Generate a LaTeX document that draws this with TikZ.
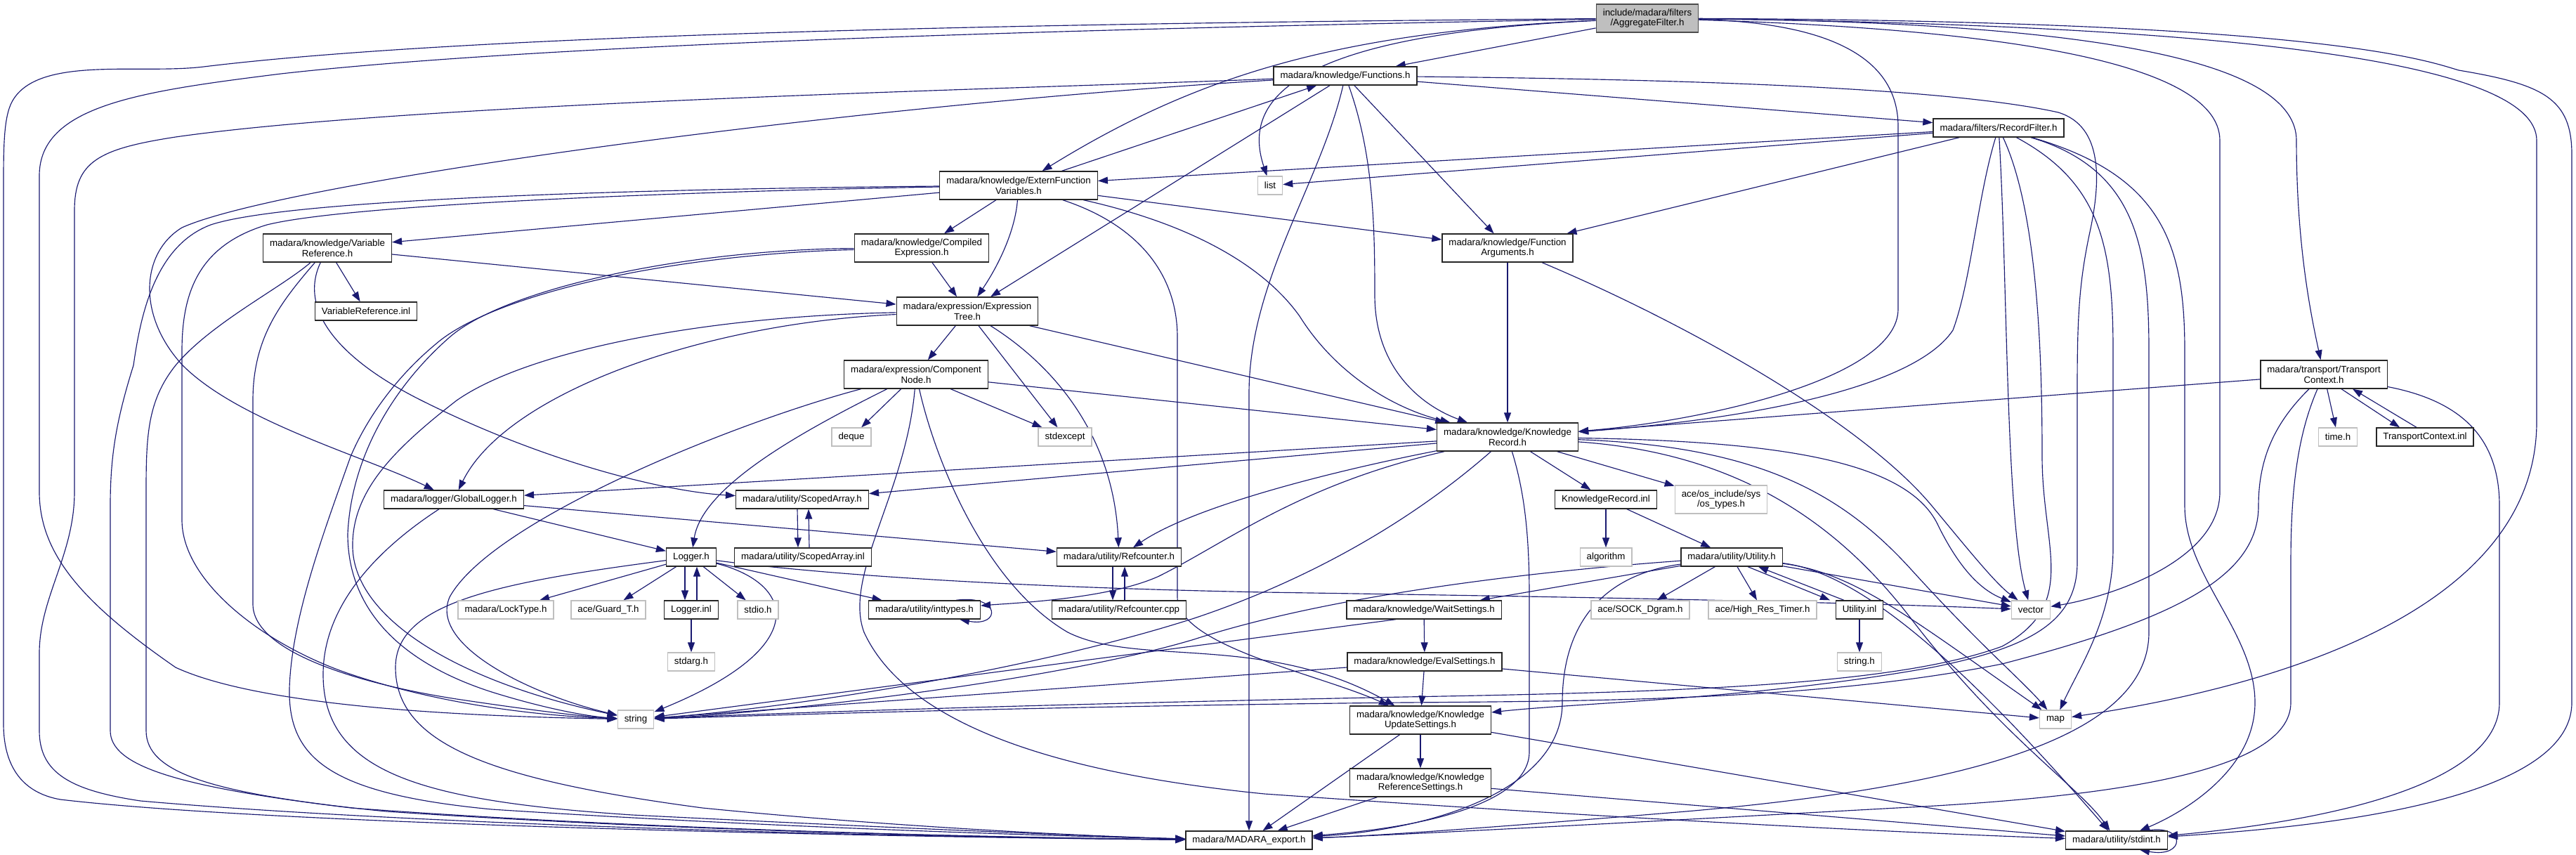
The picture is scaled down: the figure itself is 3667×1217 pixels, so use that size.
\documentclass[tikz,border=0pt]{standalone}
\usepackage{fontspec}
\setmainfont{Liberation Sans}
\usetikzlibrary{arrows.meta}
\pgfdeclarelayer{bg}
\pgfsetlayers{bg,main}
\definecolor{edgeblue}{HTML}{191970}
\definecolor{sysgray}{HTML}{BFBFBF}
\begin{document}
\begin{tikzpicture}[x=1pt,y=-1pt,font=\fontsize{13.3}{14.5}\selectfont,
  nb/.style={draw=black!85,line width=1.35pt,fill=white,inner xsep=9.5pt,inner ysep=0pt,minimum height=26pt,text=black},
  ns/.style={nb,draw=sysgray},
  nroot/.style={nb,fill=sysgray,draw=black!70},
  two/.style={minimum height=40pt,align=center},
  dep/.style={draw=edgeblue,line width=1.15pt,-{Triangle[length=14pt,width=10pt]}}]
\useasboundingbox (0,0) rectangle (3667,1217);
% ---------------- nodes
\node[nroot,two] (R) at (2345,26) {include/madara/filters\\/AggregateFilter.h};
\node[nb] (F) at (1915,108) {madara/knowledge/Functions.h};
\node[nb] (RF) at (2845,182) {madara/filters/RecordFilter.h};
\node[nb,two] (EF) at (1450,264) {madara/knowledge/ExternFunction\\Variables.h};
\node[ns] (LST) at (1808,264) {list};
\node[nb,two] (VR) at (466,353) {madara/knowledge/Variable\\Reference.h};
\node[nb,two] (CE) at (1312,353) {madara/knowledge/Compiled\\Expression.h};
\node[nb,two] (FA) at (2146,353) {madara/knowledge/Function\\Arguments.h};
\node[nb] (VRI) at (521,443) {VariableReference.inl};
\node[nb,two] (ET) at (1377,443) {madara/expression/Expression\\Tree.h};
\node[nb,two] (CN) at (1304,533) {madara/expression/Component\\Node.h};
\node[nb,two] (TC) at (3308,533) {madara/transport/Transport\\Context.h};
\node[ns] (DQ) at (1212,622) {deque};
\node[ns] (SE) at (1516,622) {stdexcept};
\node[nb,two] (KR) at (2146,622) {madara/knowledge/Knowledge\\Record.h};
\node[ns] (TIME) at (3328,622) {time.h};
\node[nb] (TCI) at (3452,622) {TransportContext.inl};
\node[nb] (GL) at (646,711) {madara/logger/GlobalLogger.h};
\node[nb] (SA) at (1142,711) {madara/utility/ScopedArray.h};
\node[nb] (KRI) at (2286,711) {KnowledgeRecord.inl};
\node[ns,two] (OST) at (2450,711) {ace/os\_include/sys\\/os\_types.h};
\node[nb] (LOG) at (984,793) {Logger.h};
\node[nb] (SAI) at (1143,793) {madara/utility/ScopedArray.inl};
\node[nb] (RC) at (1593,793) {madara/utility/Refcounter.h};
\node[ns] (ALG) at (2286,793) {algorithm};
\node[nb] (UT) at (2465,793) {madara/utility/Utility.h};
\node[ns] (LT) at (720,868) {madara/LockType.h};
\node[ns] (GT) at (866,868) {ace/Guard\_T.h};
\node[nb] (LOGI) at (984,868) {Logger.inl};
\node[ns] (STDIO) at (1079,868) {stdio.h};
\node[nb] (IT) at (1316,868) {madara/utility/inttypes.h};
\node[nb] (RCC) at (1593,868) {madara/utility/Refcounter.cpp};
\node[nb] (WS) at (2027,868) {madara/knowledge/WaitSettings.h};
\node[ns] (SOCK) at (2335,868) {ace/SOCK\_Dgram.h};
\node[ns] (HRT) at (2509,868) {ace/High\_Res\_Timer.h};
\node[nb] (UTI) at (2647,868) {Utility.inl};
\node[ns] (VEC) at (2891,868) {vector};
\node[ns] (STDARG) at (984,942) {stdarg.h};
\node[nb] (ES) at (2028,942) {madara/knowledge/EvalSettings.h};
\node[ns] (STRH) at (2647,942) {string.h};
\node[ns] (STR) at (905,1024) {string};
\node[ns] (MAP) at (2926,1024) {map};
\node[nb,two] (KUS) at (2022,1025) {madara/knowledge/Knowledge\\UpdateSettings.h};
\node[nb,two] (KRS) at (2022,1114) {madara/knowledge/Knowledge\\ReferenceSettings.h};
\node[nb] (MEX) at (1778,1196) {madara/MADARA\_export.h};
\node[nb] (SI) at (3013,1196) {madara/utility/stdint.h};
% ---------------- edges
\begin{pgfonlayer}{bg}
% root
\draw[dep] (R) -- (F);
\draw[dep] (R) .. controls (1900,45) and (1700,110) .. (EF);
\draw[dep] (R) .. controls (1820,50) and (1770,150) .. (LST);
\draw[dep] (R) .. controls (1600,32) and (700,45) .. (290,95) .. controls (200,106) and (60,80) .. (20,140) .. controls (6,160) and (5,200) .. (5,260) -- (5,1030) .. controls (5,1100) and (40,1130) .. (86,1138) .. controls (400,1175) and (1300,1192) .. (MEX);
\draw[dep] (R) .. controls (1600,40) and (800,60) .. (400,105) .. controls (200,130) and (56,150) .. (56,250) -- (56,700) .. controls (56,790) and (120,860) .. (250,950) .. controls (380,1010) and (700,1020) .. (STR);
\draw[dep] (R) .. controls (2600,32) and (2702,80) .. (2702,180) -- (2702,440) .. controls (2702,540) and (2420,600) .. (KR);
\draw[dep] (R) .. controls (2800,40) and (3160,80) .. (3160,200) -- (3160,700) .. controls (3160,800) and (3000,850) .. (VEC);
\draw[dep] (R) .. controls (3000,32) and (3269,90) .. (3269,200) .. controls (3269,350) and (3290,450) .. (TC);
\draw[dep] (R) .. controls (3200,36) and (3611,90) .. (3611,200) -- (3611,600) .. controls (3611,900) and (3150,990) .. (MAP);
\draw[dep] (R) .. controls (3300,30) and (3450,85) .. (3500,100) .. controls (3620,120) and (3661,140) .. (3661,220) -- (3661,1000) .. controls (3661,1150) and (3250,1180) .. (SI);
% Functions.h
\draw[dep] (F) -- (ET);
\draw[dep] (F) -- (FA);
\draw[dep] (F) -- (RF);
\draw[dep] (F) .. controls (1880,260) and (1778,400) .. (1778,560) -- (MEX);
\draw[dep] (F) .. controls (1955,220) and (1957,320) .. (1957,420) .. controls (1957,530) and (2030,580) .. (KR);
\draw[dep] (F) .. controls (1200,150) and (400,260) .. (259,324) .. controls (200,360) and (195,450) .. (260,520) .. controls (340,600) and (520,650) .. (GL);
\draw[dep] (F) .. controls (1500,125) and (600,145) .. (250,195) .. controls (140,212) and (106,230) .. (106,300) -- (106,700) .. controls (106,790) and (56,850) .. (56,930) -- (56,1040) .. controls (56,1100) and (100,1125) .. (200,1140) .. controls (600,1175) and (1300,1192) .. (MEX);
\draw[dep] (F) .. controls (2300,112) and (2750,120) .. (2930,160) .. controls (2995,180) and (2990,260) .. (2975,330) .. controls (2960,400) and (2957,450) .. (2957,550) -- (2957,800) .. controls (2957,880) and (2900,920) .. (2750,950) .. controls (2500,995) and (2250,1000) .. (KUS);
% ExternFunctionVariables.h
\draw[dep] (EF) -- (F);
\draw[dep] (EF) -- (CE);
\draw[dep] (EF) .. controls (1445,330) and (1420,380) .. (ET);
\draw[dep] (EF) -- (FA);
\draw[dep] (EF) -- (VR);
\draw[dep] (EF) .. controls (1700,320) and (1800,380) .. (1850,450) .. controls (1900,530) and (1980,580) .. (KR);
\draw[dep] (EF) .. controls (1620,320) and (1676,390) .. (1676,480) -- (1676,850) .. controls (1676,920) and (1880,960) .. (KUS);
\draw[dep] (EF) .. controls (1000,272) and (500,290) .. (380,320) .. controls (280,350) and (259,420) .. (259,500) -- (259,740) .. controls (259,830) and (380,920) .. (500,960) .. controls (650,1010) and (800,1020) .. (STR);
\draw[dep] (EF) .. controls (1000,268) and (420,280) .. (300,320) .. controls (220,350) and (200,450) .. (190,520) .. controls (165,600) and (157,650) .. (157,720) -- (157,1040) .. controls (157,1090) and (250,1120) .. (500,1150) .. controls (900,1180) and (1400,1192) .. (MEX);
% VariableReference.h
\draw[dep] (VR) -- (VRI);
\draw[dep] (VR) -- (ET);
\draw[dep] (VR) .. controls (425,440) and (480,510) .. (600,570) .. controls (780,660) and (950,700) .. (SA);
\draw[dep] (VR) .. controls (400,430) and (360,480) .. (360,570) -- (360,860) .. controls (360,930) and (520,975) .. (650,995) .. controls (750,1010) and (830,1020) .. (STR);
\draw[dep] (VR) .. controls (400,410) and (300,460) .. (250,520) .. controls (210,570) and (208,620) .. (208,700) -- (208,1040) .. controls (208,1100) and (300,1130) .. (550,1155) .. controls (950,1182) and (1400,1192) .. (MEX);
% CompiledExpression.h
\draw[dep] (CE) -- (ET);
\draw[dep] (CE) .. controls (980,355) and (720,410) .. (640,480) .. controls (560,550) and (500,650) .. (495,760) .. controls (495,860) and (560,940) .. (700,985) .. controls (780,1010) and (840,1020) .. (STR);
\draw[dep] (CE) .. controls (950,362) and (700,420) .. (620,490) .. controls (560,540) and (520,600) .. (499,650) .. controls (460,760) and (415,880) .. (412,980) .. controls (410,1080) and (470,1130) .. (700,1152) .. controls (1100,1178) and (1500,1190) .. (MEX);
% ExpressionTree.h
\draw[dep] (ET) -- (CN);
\draw[dep] (ET) -- (SE);
\draw[dep] (ET) -- (KR);
\draw[dep] (ET) .. controls (1500,520) and (1585,620) .. (RC);
\draw[dep] (ET) .. controls (1000,460) and (720,560) .. (GL);
\draw[dep] (ET) .. controls (1000,450) and (750,500) .. (650,570) .. controls (560,640) and (500,700) .. (502,780) .. controls (505,880) and (650,970) .. (STR);
% ComponentNode.h
\draw[dep] (CN) -- (DQ);
\draw[dep] (CN) -- (SE);
\draw[dep] (CN) -- (KR);
\draw[dep] (CN) .. controls (1150,610) and (1000,690) .. (LOG);
\draw[dep] (CN) .. controls (1050,600) and (700,740) .. (640,850) .. controls (610,920) and (760,990) .. (STR);
\draw[dep] (CN) .. controls (1330,650) and (1400,830) .. (1520,900) .. controls (1620,950) and (1800,900) .. (KUS);
\draw[dep] (CN) .. controls (1290,700) and (1200,820) .. (1230,900) .. controls (1290,1030) and (1500,1100) .. (1800,1130) .. controls (2300,1165) and (2700,1185) .. (SI);
% FunctionArguments.h
\draw[dep] (FA) -- (KR);
\draw[dep] (FA) .. controls (2400,460) and (2650,600) .. (2750,720) .. controls (2800,780) and (2840,830) .. (VEC);
% RecordFilter.h
\draw[dep] (RF) -- (EF);
\draw[dep] (RF) -- (LST);
\draw[dep] (RF) -- (FA);
\draw[dep] (RF) .. controls (2815,280) and (2806,400) .. (2780,470) .. controls (2720,560) and (2450,600) .. (KR);
\draw[dep] (RF) .. controls (2858,400) and (2855,740) .. (VEC);
\draw[dep] (RF) .. controls (2900,300) and (2907,500) .. (2907,650) .. controls (2907,780) and (2960,860) .. (2850,920) .. controls (2700,975) and (2400,985) .. (2000,992) .. controls (1500,1002) and (1100,1015) .. (STR);
\draw[dep] (RF) .. controls (2990,260) and (3008,350) .. (3008,500) -- (3008,780) .. controls (3008,880) and (2960,950) .. (MAP);
\draw[dep] (RF) .. controls (3040,240) and (3059,350) .. (3059,500) -- (3059,900) .. controls (3059,1050) and (2800,1120) .. (2400,1155) .. controls (2100,1180) and (1950,1190) .. (MEX);
\draw[dep] (RF) .. controls (3080,250) and (3110,350) .. (3110,500) -- (3110,720) .. controls (3110,820) and (3210,900) .. (3210,1000) .. controls (3210,1100) and (3100,1160) .. (SI);
% TransportContext.h
\draw[dep] (TC) -- (KR);
\draw[dep] (TC) -- (TIME);
\draw[dep] ([xshift=25pt]TC.south) -- ([xshift=-36pt]TCI.north);
\draw[dep] ([xshift=-12pt]TCI.north) -- ([xshift=41pt]TC.south);
\draw[dep] (TC) .. controls (3240,600) and (3215,650) .. (3215,720) .. controls (3215,820) and (3100,880) .. (2850,945) .. controls (2600,995) and (2300,998) .. (2000,1000) .. controls (1500,1005) and (1100,1018) .. (STR);
\draw[dep] (TC) .. controls (3270,620) and (3261,700) .. (3261,800) -- (3261,1000) .. controls (3261,1100) and (3000,1135) .. (2700,1150) .. controls (2300,1172) and (2000,1188) .. (MEX);
\draw[dep] (TC) .. controls (3500,570) and (3558,620) .. (3558,720) -- (3558,1000) .. controls (3558,1120) and (3300,1170) .. (SI);
% KnowledgeRecord.h
\draw[dep] (KR) -- (GL);
\draw[dep] (KR) -- (SA);
\draw[dep] (KR) .. controls (1900,670) and (1700,720) .. (RC);
\draw[dep] (KR) .. controls (1850,690) and (1750,770) .. (1650,820) .. controls (1580,852) and (1450,858) .. (IT);
\draw[dep] (KR) .. controls (2000,750) and (1850,830) .. (1700,880) .. controls (1450,960) and (1100,1010) .. (STR);
\draw[dep] (KR) .. controls (2170,700) and (2177,760) .. (2177,850) -- (2177,1070) .. controls (2177,1150) and (2000,1180) .. (MEX);
\draw[dep] (KR) -- (KRI);
\draw[dep] (KR) -- (OST);
\draw[dep] (KR) .. controls (2550,628) and (2720,660) .. (2760,750) .. controls (2790,810) and (2820,840) .. (VEC);
\draw[dep] (KR) .. controls (2500,635) and (2620,700) .. (2720,810) .. controls (2820,920) and (2880,970) .. (MAP);
\draw[dep] (KR) .. controls (2480,645) and (2620,750) .. (2720,880) .. controls (2850,1050) and (2960,1120) .. (SI);
% KnowledgeRecord.inl
\draw[dep] (KRI) -- (ALG);
\draw[dep] (KRI) -- (UT);
% Utility.h
\draw[dep] (UT) -- (SOCK);
\draw[dep] (UT) -- (HRT);
\draw[dep] ([xshift=23pt]UT.south) -- ([xshift=-42pt]UTI.north);
\draw[dep] ([xshift=-22pt]UTI.north) -- ([xshift=38pt]UT.south);
\draw[dep] (UT) -- (VEC);
\draw[dep] (UT) .. controls (2640,815) and (2720,880) .. (MAP);
\draw[dep] (UT) .. controls (2650,815) and (2800,950) .. (SI);
\draw[dep] (UT) -- (WS);
\draw[dep] (UT) .. controls (2200,812) and (1900,845) .. (1700,910) .. controls (1500,970) and (1100,1015) .. (STR);
\draw[dep] (UT) .. controls (2270,820) and (2224,900) .. (2224,1000) .. controls (2224,1120) and (2050,1180) .. (MEX);
\draw[dep] (UTI) -- (STRH);
% Logger.h
\draw[dep] (LOG) -- (LT);
\draw[dep] (LOG) -- (GT);
\draw[dep] ([xshift=-9pt]LOG.south) -- ([xshift=-9pt]LOGI.north);
\draw[dep] ([xshift=8pt]LOGI.north) -- ([xshift=8pt]LOG.south);
\draw[dep] (LOG) -- (STDIO);
\draw[dep] (LOG) -- (IT);
\draw[dep] (LOG) .. controls (1130,830) and (1160,920) .. (STR);
\draw[dep] (LOG) .. controls (700,830) and (563,860) .. (563,950) .. controls (563,1060) and (700,1110) .. (1000,1150) .. controls (1300,1180) and (1600,1192) .. (MEX);
\draw[dep] (LOG) .. controls (1150,815) and (1400,835) .. (1800,843) .. controls (2200,849) and (2600,856) .. (VEC);
\draw[dep] (LOGI) -- (STDARG);
% GlobalLogger.h
\draw[dep] (GL) -- (LOG);
\draw[dep] (GL) -- (RC);
\draw[dep] (GL) .. controls (540,780) and (460,860) .. (460,960) .. controls (460,1100) and (600,1140) .. (900,1160) .. controls (1300,1180) and (1600,1192) .. (MEX);
% ScopedArray, Refcounter, inttypes
\draw[dep] ([xshift=-7pt]SA.south) -- ([xshift=-7pt]SAI.north);
\draw[dep] ([xshift=9pt]SAI.north) -- ([xshift=9pt]SA.south);
\draw[dep] ([xshift=-9pt]RC.south) -- ([xshift=-9pt]RCC.north);
\draw[dep] ([xshift=8pt]RCC.north) -- ([xshift=8pt]RC.south);
\draw[dep] ([xshift=-35pt]IT.north east) .. controls (1425,846) and (1425,893) .. ([xshift=-30pt]IT.south east);
% settings
\draw[dep] (WS) -- (ES);
\draw[dep] ([xshift=-40pt]WS.south) -- (STR);
\draw[dep] (ES) -- (KUS);
\draw[dep] (ES) -- (STR);
\draw[dep] (ES) -- (MAP);
\draw[dep] (KUS) -- (KRS);
\draw[dep] (KUS) -- (MEX);
\draw[dep] (KUS) -- (SI);
\draw[dep] (KRS) -- (MEX);
\draw[dep] (KRS) -- (SI);
\draw[dep] ([xshift=-30pt]SI.north east) .. controls (3112,1172) and (3112,1222) .. ([xshift=-40pt]SI.south east);
\end{pgfonlayer}
\end{tikzpicture}
\end{document}
